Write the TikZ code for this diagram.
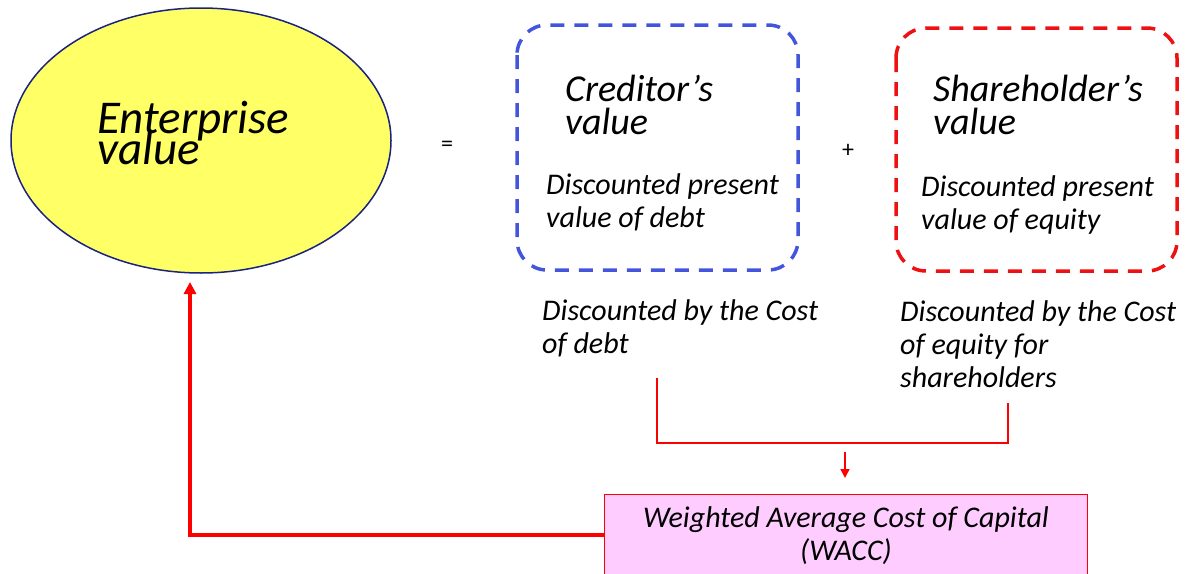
\documentclass[tikz,border=0pt]{standalone}
\usepackage{fontspec}
\setmainfont{Carlito}
\usetikzlibrary{shapes.geometric,arrows.meta}
\definecolor{evyellow}{HTML}{FFFF66}
\definecolor{evnavy}{HTML}{1A237E}
\definecolor{credblue}{HTML}{4455DD}
\definecolor{shred}{HTML}{EE1111}
\definecolor{waccpink}{HTML}{FFCCFF}
\newcommand{\nolsk}{\lineskiplimit=-100pt\relax}
\tikzset{
  bigtxt/.style={anchor=base west,inner sep=0pt,align=left,font=\itshape\fontsize{47}{31}\selectfont\nolsk},
  headtxt/.style={anchor=base west,inner sep=0pt,align=left,font=\itshape\fontsize{38}{33}\selectfont\nolsk},
  smalltxt/.style={anchor=base west,inner sep=0pt,align=left,font=\itshape\fontsize{30}{33}\selectfont\nolsk},
  optxt/.style={anchor=center,inner sep=0pt,font=\fontsize{24}{28}\selectfont},
  dashbox/.style={draw,line width=3.5pt,dash pattern=on 14pt off 10pt,rounded corners=30pt},
  thinred/.style={draw=red,line width=1.5pt},
}
\begin{document}
\begin{tikzpicture}[x=1pt,y=-1pt]
\useasboundingbox (0,0) rectangle (1186,573);
% ellipse
\node[ellipse,draw=evnavy,line width=1.5pt,fill=evyellow,minimum width=380pt,minimum height=265pt,inner sep=0pt] (ev) at (201,140.5) {};
\node[bigtxt] (evt) at (97,164) {Enterprise\\value};
% operators
\node[optxt] (eq) at (447,146) {=};
\node[optxt] (plus) at (848,151) {+};
% creditor box
\draw[dashbox,draw=credblue] (517,25) rectangle (798,270);
\node[headtxt] (credh) at (565,134) {Creditor’s\\value};
\node[smalltxt] (credd) at (546,227) {Discounted present\\value of debt};
% shareholder box
\draw[dashbox,draw=shred] (896,28) rectangle (1177,271);
\node[headtxt] (shh) at (933,134) {Shareholder’s\\value};
\node[smalltxt] (shd) at (921,229) {Discounted present\\value of equity};
% discount labels
\node[smalltxt] (dl) at (542,353) {Discounted by the Cost\\of debt};
\node[smalltxt] (dr) at (900,387) {Discounted by the Cost\\of equity for\\shareholders};
% WACC box
\node[draw=red,line width=1.2pt,fill=waccpink,minimum width=483pt,minimum height=90pt,inner sep=0pt,anchor=north west] (wacc) at (604,494) {};
\node[anchor=base,inner sep=0pt,align=center,font=\itshape\fontsize{30}{33}\selectfont\nolsk] (wt) at (846,560) {Weighted Average Cost of Capital\\(WACC)};
% bracket
\coordinate (bl) at (657,378);
\coordinate (br) at (1008,403);
\draw[thinred] (bl) -- (657,443) -- (1008,443) -- (br);
\coordinate (as) at (845,452);
\coordinate (ae) at (845,478);
\draw[thinred,-{Triangle[length=9pt,width=9pt]}] (as) -- (ae);
% big arrow
\coordinate (corner) at (190,535);
\coordinate (tip) at (190,282);
\draw[draw=red,line width=3.5pt,-{Triangle[length=12pt,width=12pt]}] (wacc.west |- corner) -- (corner) -- (tip);
\end{tikzpicture}
\end{document}
